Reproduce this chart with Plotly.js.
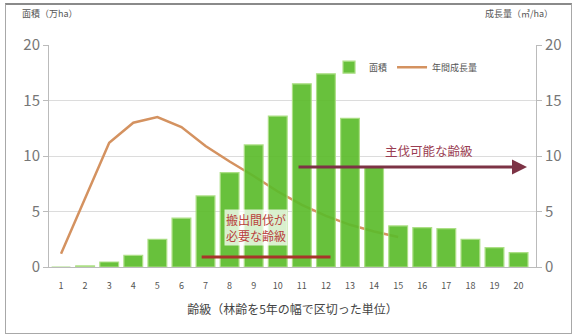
<!DOCTYPE html>
<html><head><meta charset="utf-8">
<script src="https://cdn.plot.ly/plotly-3.0.1.min.js"></script>
<style>
html,body{margin:0;padding:0;background:#fff;}
#wrap{position:relative;width:575px;height:336px;}
#chart{width:575px;height:336px;}
#frame{position:absolute;left:5px;top:3px;width:565px;height:328px;border:1px solid #a8a8a8;border-top:2px solid #8a8a8a;pointer-events:none;}
</style>
</head><body>
<div id="wrap"><div id="chart"></div><div id="frame"></div></div>
<script>
const categories = ['1','2','3','4','5','6','7','8','9','10','11','12','13','14','15','16','17','18','19','20'];
const areaValues = [0, 0.1, 0.45, 1.05, 2.5, 4.4, 6.4, 8.5, 11.0, 13.6, 16.5, 17.4, 13.4, 9.0, 3.7, 3.55, 3.45, 2.5, 1.75, 1.3];
const growthCategories = ['1','2','3','4','5','6','7','8','9','10','11','12','13','14','15'];
const growthValues = [1.2, 6.2, 11.2, 13.0, 13.5, 12.6, 10.9, 9.5, 8.2, 6.8, 5.6, 4.6, 3.8, 3.2, 2.7];
const leftTicks = [0, 5, 10, 15, 20];
const rightTicks = [0, 5, 10, 15, 20];
const seriesNames = ['面積', '年間成長量'];

const FONT = '"Noto Sans CJK JP", "Noto Sans", sans-serif';

const data = [
  {
    type: 'bar', name: seriesNames[0], x: categories, y: areaValues,
    xaxis: 'x', yaxis: 'y2',
    marker: {color: '#5cbc2c', line: {color: '#a6dd7c', width: 1.2}},
    opacity: 0.92
  },
  {
    type: 'scatter', mode: 'lines', name: seriesNames[1], x: growthCategories, y: growthValues,
    xaxis: 'x', yaxis: 'y',
    line: {color: '#d49260', width: 2.5}
  }
];

const layout = {
  width: 575, height: 336,
  margin: {l: 49, r: 39, t: 45, b: 69},
  paper_bgcolor: '#ffffff', plot_bgcolor: '#ffffff',
  font: {family: FONT, color: '#666'},
  bargap: 0.22,
  showlegend: true,
  legend: {orientation: 'h', x: 0.575, y: 0.9, xanchor: 'left', yanchor: 'middle',
           bgcolor: 'rgba(0,0,0,0)', font: {size: 9, color: '#555'}, traceorder: 'normal'},
  xaxis: {
    type: 'category', categoryarray: categories, categoryorder: 'array',
    showgrid: false, zeroline: false, showline: true, linecolor: '#bbb', linewidth: 1,
    ticks: '', ticklabelstandoff: 10, tickfont: {size: 9, color: '#555'},
    title: {text: '齢級（林齢を5年の幅で区切った単位）', font: {size: 12, color: '#444'}, standoff: 14},
    automargin: true
  },
  yaxis: {
    range: [0, 20], tickvals: rightTicks, side: 'right',
    showgrid: false, zeroline: false, showline: true, linecolor: '#bbb',
    ticks: 'outside', ticklen: 5, tickcolor: '#bbb',
    tickfont: {size: 15, color: '#777'}
  },
  yaxis2: {
    range: [0, 20], tickvals: leftTicks, side: 'left', overlaying: 'y',
    showgrid: true, gridcolor: '#dcdcdc', zeroline: false, showline: true, linecolor: '#bbb',
    ticks: 'outside', ticklen: 5, tickcolor: '#bbb',
    tickfont: {size: 15, color: '#777'}
  },
  annotations: [
    {xref: 'paper', yref: 'paper', x: -0.06, y: 1.14, xanchor: 'left', yanchor: 'middle',
     text: '面積（万ha）', showarrow: false, font: {size: 9, color: '#555'}},
    {xref: 'paper', yref: 'paper', x: 1.04, y: 1.14, xanchor: 'right', yanchor: 'middle',
     text: '成長量（㎥/ha）', showarrow: false, font: {size: 9, color: '#555'}},
    {xref: 'x', yref: 'y', x: 19.35, y: 9.0, ax: 9.8, ay: 9.0, axref: 'x', ayref: 'y',
     showarrow: true, arrowhead: 2, arrowsize: 1, arrowwidth: 3, arrowcolor: '#7d3345', text: ''},
    {xref: 'x', yref: 'y', x: 15.3, y: 10.5, text: '主伐可能な齢級', showarrow: false,
     font: {size: 12.5, color: '#9a3d52'}},
    {xref: 'x', yref: 'y', x: 8.1, y: 3.6, text: '搬出間伐が<br>必要な齢級', showarrow: false,
     align: 'left', bgcolor: 'rgba(255,255,255,0.75)',
     font: {size: 12, color: '#b8403c'}}
  ],
  shapes: [
    {type: 'line', xref: 'x', yref: 'y', x0: 5.84, x1: 11.19, y0: 0.9, y1: 0.9,
     line: {color: '#a8352a', width: 3}}
  ]
};

Plotly.newPlot('chart', data, layout, {displayModeBar: false, staticPlot: true});
</script>
</body></html>
